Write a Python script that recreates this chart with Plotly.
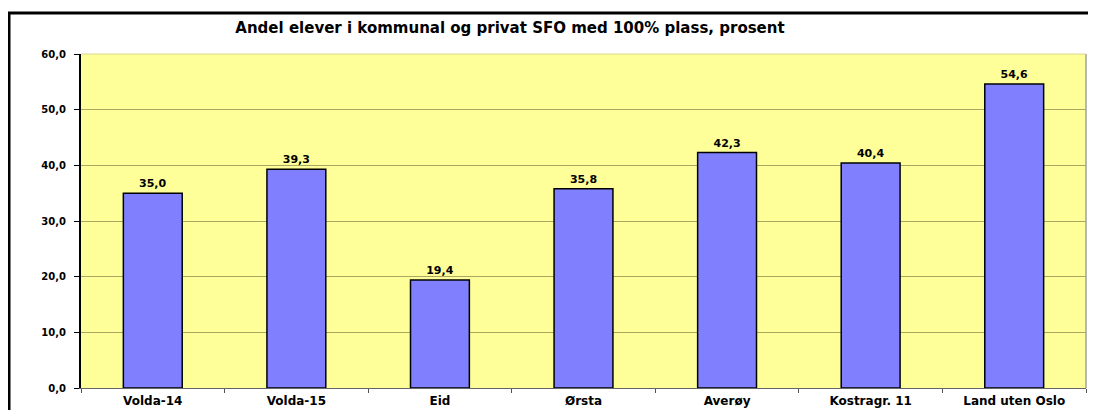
import plotly.graph_objects as go

categories = ["Volda-14", "Volda-15", "Eid", "Ørsta", "Averøy", "Kostragr. 11", "Land uten Oslo"]
values = [35.0, 39.3, 19.4, 35.8, 42.3, 40.4, 54.6]
ytick_vals = [0, 10, 20, 30, 40, 50, 60]
ytick_text = ["0,0", "10,0", "20,0", "30,0", "40,0", "50,0", "60,0"]
title_text = "Andel elever i kommunal og privat SFO med 100% plass, prosent"

FONT = "DejaVu Sans, Arial, sans-serif"
OFF = 8  # default page body margin

W, H = 1096, 410
# plot area in screen coords: x 81..1086, y 54..388
L = 81 - OFF
T = 54 - OFF
R = W - (1086 - OFF)
B = H - (388 - OFF)
pw, ph = W - L - R, H - T - B

fig = go.Figure()
fig.add_trace(go.Bar(
    x=categories, y=values,
    width=0.41,
    marker=dict(color="#8080FF", line=dict(color="black", width=1.5)),
    text=[f"{v:.1f}".replace(".", ",") for v in values],
    textposition="outside",
    textfont=dict(family=FONT, size=11, color="black", weight="bold"),
    cliponaxis=False,
))

fig.update_layout(
    width=W, height=H,
    margin=dict(l=L, r=R, t=T, b=B),
    paper_bgcolor="white",
    plot_bgcolor="#FFFF99",
    showlegend=False,
    separators=",.",
    title=dict(text="<b>" + title_text + "</b>", x=(510 - OFF) / W, xanchor="center",
               y=1 - (28 - OFF) / H, yanchor="middle",
               font=dict(family=FONT, size=15, color="black")),
    xaxis=dict(
        automargin=False,
        tickfont=dict(family=FONT, size=12, color="black", weight="bold"),
        ticks="outside", tickson="boundaries", ticklen=4, tickcolor="#555555",
        ticklabelstandoff=2,
        showline=True, linecolor="#666666", linewidth=1,
        mirror=False, showgrid=False,
    ),
    yaxis=dict(
        automargin=False,
        range=[0, 60], tickvals=ytick_vals, ticktext=ytick_text,
        tickfont=dict(family=FONT, size=10, color="black", weight="bold"),
        ticks="outside", ticklen=5, tickcolor="black",
        ticklabelstandoff=6,
        showline=True, linecolor="black", linewidth=2,
        gridcolor="#A8A860", gridwidth=1,
        zeroline=False,
    ),
    shapes=[
        dict(type="line", xref="paper", yref="paper", x0=1, x1=1, y0=0, y1=1,
             line=dict(color="#A0A0A0", width=1.5)),
        dict(type="line", xref="paper", yref="paper", x0=0, x1=1, y0=1, y1=1,
             line=dict(color="#D8D890", width=1)),
        dict(type="rect", xref="paper", yref="paper",
             x0=(9 - 81) / pw, x1=(W + 20 - 81) / pw,
             y0=-0.3, y1=(388 - 13) / ph,
             line=dict(color="black", width=3), fillcolor="rgba(0,0,0,0)", layer="above"),
    ],
)

fig.write_html("out.html")
